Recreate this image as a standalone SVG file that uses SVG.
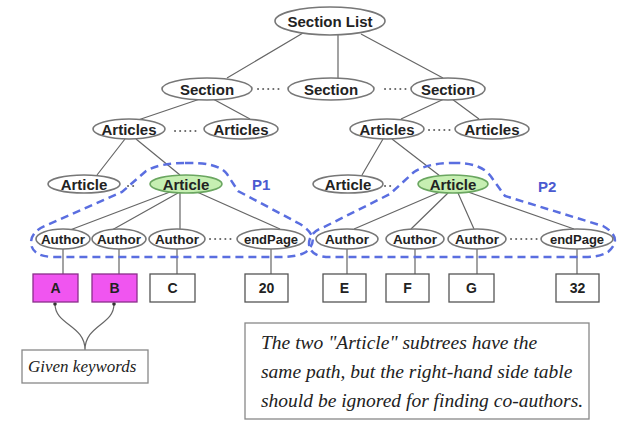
<svg xmlns="http://www.w3.org/2000/svg" width="622" height="422" viewBox="0 0 622 422">
<style>
.n{fill:#fff;stroke:#777;stroke-width:1.6}
.g{fill:#c6efb2;stroke:#6aa660;stroke-width:1.6}
.t{font-family:"Liberation Sans",Arial,sans-serif;font-weight:bold;fill:#222;text-anchor:middle;dominant-baseline:central}
.b{fill:#fff;stroke:#555;stroke-width:1.3}
.m{fill:#f055f0;stroke:#8a2f8a;stroke-width:1.3}
.e{stroke:#666;stroke-width:1.2;fill:none}
.d{stroke:#666;stroke-width:2;stroke-dasharray:0.1,5;stroke-linecap:round;fill:none}
.p{fill:none;stroke:#5a6ee0;stroke-width:2.5;stroke-dasharray:8,5}
.pl{font-family:"Liberation Sans",Arial,sans-serif;font-weight:bold;font-size:15px;fill:#4a5ad0}
.s{font-family:"Liberation Serif","Times New Roman",serif;font-style:italic;fill:#222}
</style>
<rect width="622" height="422" fill="#fff"/>
<g id="connectors">
<path class="e" d="M303,33 L227,78 M338,35 L338,78 M361,34 L443,78"/>
<path class="e" d="M200,99 L138,120 M213,99 L250,119 M444,99 L401,119 M452,99 L479,119"/>
<path class="e" d="M125,139 L97,175 M136,139 L180,175 M383,139 L362,175 M392,139 L440,176"/>
<path class="e" d="M170,192 L70,230 M178,193 L112,230 M180,193 L180,229 M197,192 L280,229"/>
<path class="e" d="M440,192 L354,229 M448,193 L411,229 M458,193 L474,229 M468,192 L574,229"/>
<path class="e" d="M63,249 L63,274 M119,249 L119,274 M177,249 L177,274 M271,249 L271,274"/>
<path class="e" d="M347,249 L347,274 M415,249 L415,274 M477,249 L477,274 M577,249 L577,274"/>
<path class="e" d="M55,304 C55,325 85,325 85,350 M114,304 C114,325 85,325 85,350"/>
<circle cx="55" cy="304" r="1.8" fill="#333"/>
<circle cx="114" cy="304" r="1.8" fill="#333"/>
<path class="d" d="M258,89 L282,89 M385,89 L409,89 M175,131 L200,131 M429,130 L452,130 M385,186 L391,186 M128,186 L134,186 M210,239 L235,239 M511,239 L538,239"/>
</g>
<g id="P1">
<path class="p" d="M185,163 Q218,162 227,174 L238,191 L300,224 Q322,238 306,252 Q298,257 280,257 L55,257 Q32,257 31,243 Q31,232 45,226 L122,192 L146,171 Q160,163 185,163 Z"/>
<text class="pl" x="252" y="190">P1</text>
</g>
<g id="P2">
<path class="p" d="M452,163 Q482,162 492,178 L505,196 L603,226 Q624,238 608,252 Q600,257 585,257 L330,257 Q310,257 309,244 Q309,233 322,228 L390,194 L414,172 Q428,163 452,163 Z"/>
<text class="pl" x="538" y="192">P2</text>
</g>
<g id="n-sectionlist"><ellipse class="n" cx="330" cy="21" rx="55" ry="14"/><text class="t" x="330" y="21" font-size="15">Section List</text></g>
<g id="n-section1"><ellipse class="n" cx="207" cy="89" rx="45" ry="11"/><text class="t" x="207" y="89" font-size="15">Section</text></g>
<g id="n-section2"><ellipse class="n" cx="331" cy="89" rx="43" ry="11"/><text class="t" x="331" y="89" font-size="15">Section</text></g>
<g id="n-section3"><ellipse class="n" cx="448" cy="89" rx="37" ry="11"/><text class="t" x="448" y="89" font-size="15">Section</text></g>
<g id="n-articles1"><ellipse class="n" cx="129" cy="129" rx="36" ry="10"/><text class="t" x="129" y="129" font-size="15">Articles</text></g>
<g id="n-articles2"><ellipse class="n" cx="241" cy="129" rx="37" ry="10"/><text class="t" x="241" y="129" font-size="15">Articles</text></g>
<g id="n-articles3"><ellipse class="n" cx="387" cy="129" rx="37" ry="10"/><text class="t" x="387" y="129" font-size="15">Articles</text></g>
<g id="n-articles4"><ellipse class="n" cx="492" cy="129" rx="37" ry="10"/><text class="t" x="492" y="129" font-size="15">Articles</text></g>
<g id="n-article1"><ellipse class="n" cx="84" cy="184" rx="36" ry="9"/><text class="t" x="84" y="184" font-size="15">Article</text></g>
<g id="n-article2"><ellipse class="g" cx="186" cy="184" rx="36" ry="9"/><text class="t" x="186" y="184" font-size="15">Article</text></g>
<g id="n-article3"><ellipse class="n" cx="348" cy="184" rx="35" ry="9"/><text class="t" x="348" y="184" font-size="15">Article</text></g>
<g id="n-article4"><ellipse class="g" cx="453" cy="184" rx="35" ry="9"/><text class="t" x="453" y="184" font-size="15">Article</text></g>
<g id="n-author1"><ellipse class="n" cx="63" cy="239" rx="27" ry="10"/><text class="t" x="63" y="239" font-size="13.5">Author</text></g>
<g id="n-author2"><ellipse class="n" cx="119" cy="239" rx="27" ry="10"/><text class="t" x="119" y="239" font-size="13.5">Author</text></g>
<g id="n-author3"><ellipse class="n" cx="177" cy="239" rx="28" ry="10"/><text class="t" x="177" y="239" font-size="13.5">Author</text></g>
<g id="n-endpage1"><ellipse class="n" cx="271" cy="239" rx="34" ry="10"/><text class="t" x="271" y="239" font-size="13">endPage</text></g>
<g id="n-author4"><ellipse class="n" cx="347" cy="239" rx="31" ry="10"/><text class="t" x="347" y="239" font-size="13.5">Author</text></g>
<g id="n-author5"><ellipse class="n" cx="415" cy="239" rx="29" ry="10"/><text class="t" x="415" y="239" font-size="13.5">Author</text></g>
<g id="n-author6"><ellipse class="n" cx="477" cy="239" rx="29" ry="10"/><text class="t" x="477" y="239" font-size="13.5">Author</text></g>
<g id="n-endpage2"><ellipse class="n" cx="577" cy="239" rx="36" ry="10"/><text class="t" x="577" y="239" font-size="13">endPage</text></g>
<g id="n-A"><rect class="m" x="33" y="274" width="45" height="28"/><text class="t" x="55.5" y="288" font-size="14">A</text></g>
<g id="n-B"><rect class="m" x="92" y="274" width="45" height="28"/><text class="t" x="114.5" y="288" font-size="14">B</text></g>
<g id="n-C"><rect class="b" x="150" y="274" width="45" height="28"/><text class="t" x="172.5" y="288" font-size="14">C</text></g>
<g id="n-20"><rect class="b" x="245" y="274" width="43" height="28"/><text class="t" x="266.5" y="288" font-size="14">20</text></g>
<g id="n-E"><rect class="b" x="323" y="274" width="43" height="28"/><text class="t" x="344.5" y="288" font-size="14">E</text></g>
<g id="n-F"><rect class="b" x="386" y="274" width="43" height="28"/><text class="t" x="407.5" y="288" font-size="14">F</text></g>
<g id="n-G"><rect class="b" x="449" y="274" width="45" height="28"/><text class="t" x="471.5" y="288" font-size="14">G</text></g>
<g id="n-32"><rect class="b" x="556" y="274" width="43" height="28"/><text class="t" x="577.5" y="288" font-size="14">32</text></g>
<g id="n-given"><rect x="22" y="350" width="126" height="33" fill="#fff" stroke="#888" stroke-width="1.3"/><text class="s" x="28" y="372" font-size="17">Given keywords</text></g>
<g id="n-note"><rect x="245" y="323" width="344" height="96" fill="#fff" stroke="#888" stroke-width="1.3"/>
<text class="s" font-size="19.5"><tspan x="261" y="349">The two "Article" subtrees have the</tspan><tspan x="261" y="378">same path, but the right-hand side table</tspan><tspan x="261" y="407">should be ignored for finding co-authors.</tspan></text></g>
</svg>
